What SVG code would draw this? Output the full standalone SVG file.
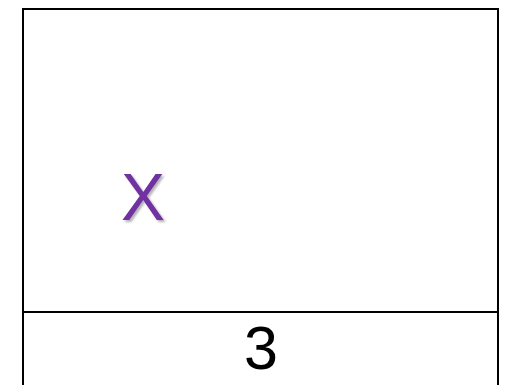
<svg xmlns="http://www.w3.org/2000/svg" width="506" height="385" viewBox="0 0 506 385">
<defs>
<filter id="sh" x="-20%" y="-20%" width="150%" height="150%">
<feDropShadow dx="2" dy="2" stdDeviation="1.2" flood-color="#000" flood-opacity="0.3"/>
</filter>
</defs>
<style>
.box{fill:#fff;stroke:#000;stroke-width:2}
.t{font-family:"Liberation Sans",Arial,sans-serif}
</style>
<rect width="506" height="385" fill="#fff"/>
<g id="top">
<rect class="box" x="23" y="9" width="475" height="303"/>
<text class="t" x="143" y="220" font-size="66" fill="#7030A0" text-anchor="middle" filter="url(#sh)">X</text>
</g>
<g id="bottom">
<rect class="box" x="23" y="312" width="475" height="90"/>
<text class="t" x="261" y="369" font-size="61" fill="#000" text-anchor="middle">3</text>
</g>
<g id="connectors"/>
</svg>
